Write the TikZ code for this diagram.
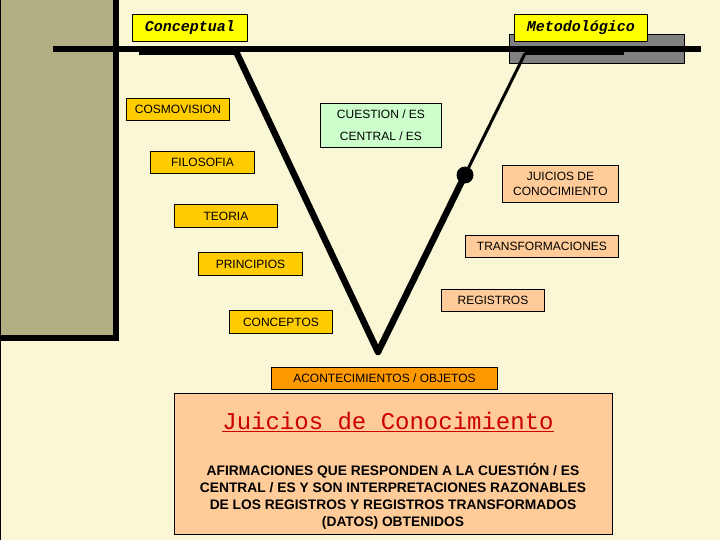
\documentclass[tikz,border=0pt]{standalone}
\usepackage{fontspec}
\setmainfont{Liberation Sans}
\newfontfamily\courierf{Liberation Mono}
\definecolor{cream}{RGB}{250,247,214}
\definecolor{khaki}{RGB}{178,174,132}
\definecolor{gold}{RGB}{255,204,0}
\definecolor{peach}{RGB}{255,204,153}
\definecolor{mint}{RGB}{204,255,204}
\definecolor{orng}{RGB}{255,153,0}
\definecolor{ylw}{RGB}{255,255,0}
\definecolor{grayrect}{RGB}{128,128,128}
\definecolor{titlered}{RGB}{204,0,0}
\begin{document}
\begin{tikzpicture}[x=1pt,y=-1pt,
  lbl/.style={draw=black,line width=0.9pt,inner sep=0pt,font=\fontsize{12}{14}\selectfont,text=black},
  box/.style args={#1/#2/#3/#4/#5}{lbl,fill=#5,minimum width=#3-#1,minimum height=#4-#2,anchor=north west},
  tag/.style={draw=black,line width=0.9pt,fill=ylw,inner sep=0pt,font=\courierf\bfseries\itshape\fontsize{15}{17}\selectfont},
  thick arm/.style={line width=6.5pt,line cap=round},
  thin arm/.style={line width=3pt}
]
\useasboundingbox (0,0) rectangle (720,540);
\fill[cream] (0,0) rectangle (720,540);
% left khaki panel
\fill[khaki] (0,0) rectangle (116,338);
\draw[line width=5.5pt] (116,0) -- (116,338) -- (0,338);
\draw[line width=1pt] (0,540) -- (0,0) -- (720,0);
% gray rectangle (methodological side)
\node[draw=black,line width=0.9pt,fill=grayrect,minimum width=175,minimum height=29,inner sep=0pt,anchor=north west] (gr) at (509,34) {};
% main horizontal line
\coordinate (hl) at (53,49);
\coordinate (hr) at (701,49);
\draw[line width=6pt] (hl) -- (hr);
% tags
\node[tag,minimum width=115,minimum height=27,anchor=north west] (conc) at (132,14) {Conceptual};
\node[tag,minimum width=133,minimum height=27,anchor=north west] (meto) at (514,14) {Metodológico};
% V shape
\coordinate (lt0) at (139,53.5);
\coordinate (lt) at (237,53.5);
\coordinate (vb) at (378,352);
\coordinate (rt) at (525,53.5);
\coordinate (rt1) at (624,53.5);
\draw[thin arm] (lt0) -- (lt);
\draw[thick arm] (lt) -- (vb);
\draw[thin arm] (rt1) -- (rt);
\node[circle,fill=black,minimum size=17,inner sep=0pt] (dot) at (465,175) {};
\draw[thin arm] (rt) -- (dot.center);
\draw[thick arm] (dot.center) -- (vb);
% left boxes
\node[box=126/98/229/120/gold] (cosmo) at (126,98) {COSMOVISION};
\node[box=150/151/254/173/gold] (filo) at (150,151) {FILOSOFIA};
\node[box=174/204/277/227/gold] (teo) at (174,204) {TEORIA};
\node[box=198/252/302/275/gold] (prin) at (198,252) {PRINCIPIOS};
\node[box=229/310/332/333/gold] (conc2) at (229,310) {CONCEPTOS};
% question box
\node[box=320/103/441/147/mint,align=center,font=\fontsize{12}{22}\selectfont] (cues) at (320,103) {CUESTION / ES\\CENTRAL / ES};
% right boxes
\node[box=502/165/618/202/peach,align=center,font=\fontsize{12}{15}\selectfont] (juic) at (502,165) {JUICIOS DE\\CONOCIMIENTO};
\node[box=465/235/618/257/peach] (trans) at (465,235) {TRANSFORMACIONES};
\node[box=441/289/544/311/peach] (regi) at (441,289) {REGISTROS};
\node[box=271/367/497/389/orng] (acon) at (271,367) {ACONTECIMIENTOS / OBJETOS};
% big explanation box
\node[draw=black,line width=0.9pt,fill=peach,minimum width=438,minimum height=141,inner sep=0pt,anchor=north west] (big) at (174,393) {};
\node[text=titlered,font=\courierf\fontsize{24}{27}\selectfont,inner sep=0pt] (title) at (388,422) {\underbar{Juicios de Conocimiento}};
\node[align=center,font=\bfseries\fontsize{13.8}{17}\selectfont,inner sep=0pt,anchor=north] (body) at (393,463) {AFIRMACIONES QUE RESPONDEN A LA CUESTIÓN / ES\\CENTRAL / ES Y SON INTERPRETACIONES RAZONABLES\\DE LOS REGISTROS Y REGISTROS TRANSFORMADOS\\(DATOS) OBTENIDOS};
\end{tikzpicture}
\end{document}
